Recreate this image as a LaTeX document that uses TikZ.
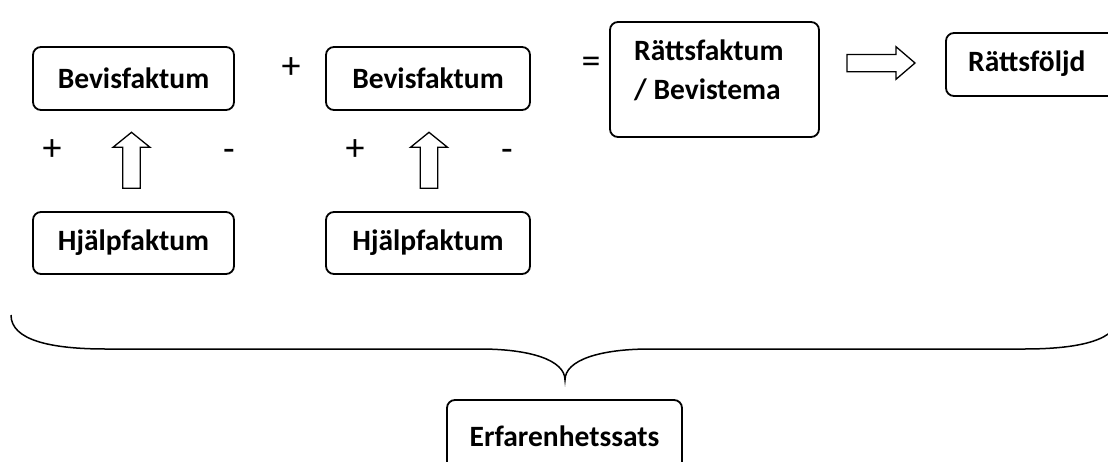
\documentclass[tikz,border=0pt]{standalone}
\usepackage{fontspec}
\setmainfont{Carlito}
\usetikzlibrary{calc}
\begin{document}
\begin{tikzpicture}[x=1pt,y=-1pt,
  box/.style={draw, rounded corners=8pt, line width=1.8pt, inner sep=0pt},
  lbl/.style={font=\bfseries\fontsize{29.5}{35}\selectfont, inner sep=0pt},
  sign/.style={font=\fontsize{38}{44}\selectfont, inner sep=0pt},
  blockarrow/.style={draw, line width=1.3pt, line join=miter}]
\useasboundingbox (0,0) rectangle (1108,461);
\clip (0,0) rectangle (1108,461);
% top row
\node[box, lbl, minimum width=201pt, minimum height=63pt] (b1) at (133.5,78.5) {Bevisfaktum};
\node[box, lbl, minimum width=204pt, minimum height=63pt] (b2) at (428,78.5) {Bevisfaktum};
\node[sign] (p0) at (291,68) {+};
\node[sign] (eq) at (591,65) {=};
\node[box, minimum width=209pt, minimum height=115pt] (rf) at (714.5,79.5) {};
\node[lbl, anchor=west] (rf1) at (634,50) {Rättsfaktum};
\node[lbl, anchor=west] (rf2) at (634,90) {/ Bevistema};
\node[box, minimum width=190pt, minimum height=63pt] (rs) at (1041,64.5) {};
\node[lbl, anchor=west] (rst) at (968,64) {Rättsföljd};
% bottom row
\node[box, lbl, minimum width=201pt, minimum height=62pt] (h1) at (133.5,243) {Hjälpfaktum};
\node[box, lbl, minimum width=204pt, minimum height=62pt] (h2) at (428,243) {Hjälpfaktum};
% signs
\node[sign] (pl1) at (52,150) {+};
\node[sign] (mi1) at (229,155) {-};
\node[sign] (pl2) at (355,150) {+};
\node[sign] (mi2) at (507,155) {-};
% up arrows
\coordinate (a1) at (131.5,132.3);
\coordinate (a2) at (429,132.3);
\foreach \c in {a1,a2}{
  \draw[blockarrow] (\c) -- ++(18.5,15) -- ++(-9.75,0) -- ++(0,41) -- ++(-17.5,0) -- ++(0,-41) -- ++(-9.75,0) -- cycle;
}
% right arrow
\coordinate (ar) at (915,63);
\draw[blockarrow] (ar) -- ++(-19,16.3) -- ++(0,-7.6) -- ++(-49,0) -- ++(0,-17.2) -- ++(49,0) -- ++(0,-7.8) -- cycle;
% brace
\coordinate (tip) at (565,380);
\draw[line width=1.5pt] (11,315) .. controls (11,340) and (50,349) .. (106,349) -- (480,349)
  .. controls (530,349) and (565,360) .. (tip)
  .. controls (565,360) and (600,349) .. (650,349) -- (1024,349)
  .. controls (1080,349) and (1119,340) .. (1119,315);
% bottom box
\node[box, lbl, minimum width=235pt, minimum height=72pt] (ef) at (564.5,436) {Erfarenhetssats};
\end{tikzpicture}
\end{document}
